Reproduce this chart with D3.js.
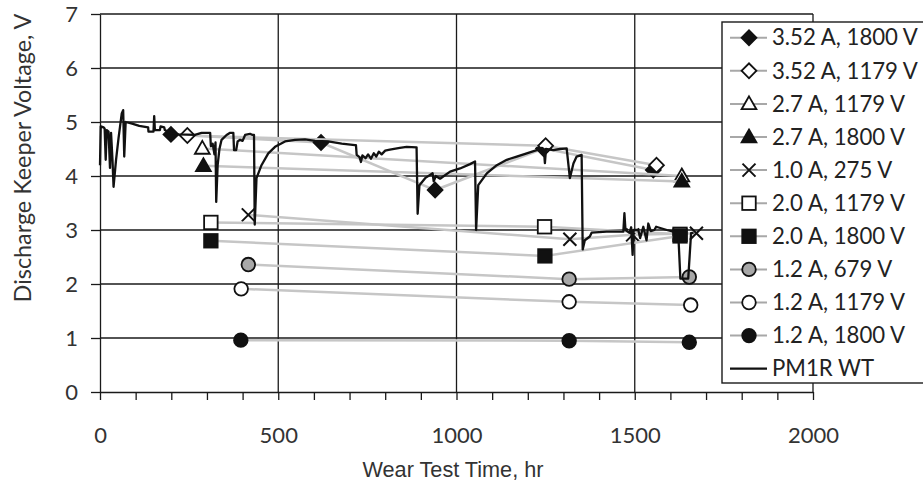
<!DOCTYPE html>
<html><head><meta charset="utf-8">
<script src="https://cdn.jsdelivr.net/npm/d3@7"></script>
<style>html,body{margin:0;padding:0;background:#fff;}</style>
</head><body>
<svg id="chart" width="923" height="488"></svg>
<script>
// ---------- data ----------
const yTicks = [0,1,2,3,4,5,6,7];
const xTicks = [0,500,1000,1500,2000];
const seriesNames = ["3.52 A, 1800 V","3.52 A, 1179 V","2.7 A, 1179 V","2.7 A, 1800 V","1.0 A, 275 V",
  "2.0 A, 1179 V","2.0 A, 1800 V","1.2 A, 679 V","1.2 A, 1179 V","1.2 A, 1800 V","PM1R WT"];
const s352_1800 = [[199,4.77],[620,4.62],[940,3.74],[1244,4.51],[1552,4.11]];
const s352_1179 = [[245,4.75],[1250,4.56],[1561,4.2]];
const s27_1179 = [[287,4.51],[1632,4.0]];
const s27_1800 = [[290,4.19],[1632,3.9]];
const s10_275 = [[416,3.28],[1318,2.83],[1494,2.91],[1673,2.94]];
const s20_1179 = [[311,3.14],[1247,3.06],[1627,2.92]];
const s20_1800 = [[311,2.80],[1248,2.52],[1627,2.89]];
const s12_679 = [[416,2.36],[1316,2.09],[1653,2.13]];
const s12_1179 = [[396,1.91],[1316,1.67],[1657,1.61]];
const s12_1800 = [[395,0.96],[1316,0.95],[1653,0.92]];
const pm1rWT = [
[0,4.2],[2,4.92],[10,4.9],[13,4.88],[16,4.3],[19,4.85],[24,4.82],[28,4.15],[31,4.8],[35,4.3],[38,3.8],
[45,4.3],[52,4.7],[61,5.16],[65,5.22],[68,4.36],[72,5.0],[90,4.97],[110,4.93],[135,4.9],[136,4.82],
[150,4.82],[152,5.11],[154,4.85],[168,4.85],[170,4.92],[180,4.9],[182,4.85],[196,4.8],[220,4.77],
[266,4.76],[285,4.8],[305,4.8],[309,4.8],[311,4.55],[316,4.6],[321,4.4],[324,4.62],[326,3.52],[330,4.2],
[335,4.5],[341,4.67],[355,4.76],[365,4.8],[374,4.8],[376,4.48],[382,4.48],[386,4.64],[393,4.67],
[400,4.65],[407,4.76],[421,4.78],[428,4.76],[432,4.76],[434,3.1],[439,3.96],[453,4.2],[472,4.42],
[491,4.54],[519,4.64],[547,4.67],[575,4.68],[603,4.65],[640,4.64],[678,4.6],[715,4.57],[718,4.57],
[720,4.39],[728,4.35],[732,4.26],[736,4.38],[745,4.33],[752,4.4],[760,4.32],[768,4.42],[775,4.36],
[782,4.45],[790,4.4],[800,4.47],[813,4.49],[841,4.52],[860,4.54],[888,4.53],[891,3.3],[896,3.83],
[912,3.96],[933,4.05],[936,3.9],[942,4.0],[954,3.95],[982,4.08],[1010,4.14],[1038,4.22],[1052,4.27],
[1055,3.0],[1061,3.83],[1085,4.05],[1113,4.2],[1141,4.3],[1169,4.36],[1197,4.42],[1225,4.48],
[1240,4.52],[1245,4.5],[1248,4.24],[1251,4.5],[1272,4.48],[1290,4.5],[1309,4.51],[1318,3.96],
[1328,4.23],[1337,4.36],[1351,4.39],[1354,2.64],[1360,2.81],[1374,2.88],[1379,2.95],[1421,2.97],
[1468,2.97],[1471,3.31],[1474,3.0],[1485,2.95],[1490,3.05],[1494,2.54],[1497,3.0],[1510,3.0],
[1515,2.85],[1524,3.06],[1533,2.81],[1538,3.12],[1545,2.98],[1555,3.0],[1560,3.06],[1590,3.0],
[1608,2.97],[1622,2.94],[1628,2.1],[1650,2.1],[1658,2.94],[1665,2.95]
];
const seriesData = [s352_1800,s352_1179,s27_1179,s27_1800,s10_275,s20_1179,s20_1800,s12_679,s12_1179,s12_1800];
const seriesMarkers = ["diamondFilled","diamondOpen","triangleOpen","triangleFilled","cross",
  "squareOpen","squareFilled","circleGrey","circleOpen","circleFilled"];

// ---------- chart ----------
const svg = d3.select("#chart");
const x = d3.scaleLinear().domain([0,2000]).range([100,813]);
const y = d3.scaleLinear().domain([0,7]).range([392,14]);
const INK = "#1a1a1a";
const TXT = "#333";
const calibriLike = "Lato, 'Open Sans', sans-serif";

// gridlines
svg.append("g").selectAll("line").data(yTicks.filter(d=>d>0)).join("line")
  .attr("x1",x(0)).attr("x2",x(2000)).attr("y1",d=>y(d)).attr("y2",d=>y(d))
  .attr("stroke",INK).attr("stroke-width",1.3);
svg.append("g").selectAll("line").data(xTicks.filter(d=>d>0)).join("line")
  .attr("y1",y(0)).attr("y2",y(7)).attr("x1",d=>x(d)).attr("x2",d=>x(d))
  .attr("stroke",INK).attr("stroke-width",1.3);

// axes
const yAxis = svg.append("g").attr("transform",`translate(${x(0)},0)`)
  .call(d3.axisLeft(y).tickValues(yTicks).tickSize(9).tickSizeOuter(0).tickPadding(13).tickFormat(d3.format("d")));
const xAxis = svg.append("g").attr("transform",`translate(0,${y(0)})`)
  .call(d3.axisBottom(x).tickValues(d3.range(0,2001,100)).tickSize(8).tickSizeOuter(0).tickPadding(27)
    .tickFormat(d=> d%500===0 ? d3.format("d")(d) : ""));
[yAxis,xAxis].forEach(a=>{
  a.select(".domain").attr("stroke",INK).attr("stroke-width",1.3);
  a.selectAll(".tick line").attr("stroke",INK).attr("stroke-width",1.3);
  a.selectAll(".tick text").attr("fill",TXT).attr("font-family",calibriLike).attr("font-size",22);
});

// marker drawing
function marker(g, type, cx, cy, scale=1){
  const s = scale;
  if(type.startsWith("diamond")){
    g.append("path").attr("d", d3.symbol(d3.symbolSquare, 110*s*s)())
      .attr("transform",`translate(${cx},${cy}) rotate(45)`)
      .attr("fill", type==="diamondFilled"?"#111":"#fff").attr("stroke","#111").attr("stroke-width",1.8);
  } else if(type.startsWith("triangle")){
    g.append("path").attr("d", d3.symbol(d3.symbolTriangle, 95*s*s)())
      .attr("transform",`translate(${cx},${cy+1})`)
      .attr("fill", type==="triangleFilled"?"#111":"#fff").attr("stroke","#111").attr("stroke-width",1.8);
  } else if(type==="cross"){
    const r=6.5*s;
    g.append("path").attr("d",`M${cx-r},${cy-r}L${cx+r},${cy+r}M${cx-r},${cy+r}L${cx+r},${cy-r}`)
      .attr("stroke","#111").attr("stroke-width",2).attr("fill","none");
  } else if(type.startsWith("square")){
    const a=13.5*s;
    g.append("rect").attr("x",cx-a/2).attr("y",cy-a/2).attr("width",a).attr("height",a)
      .attr("fill", type==="squareFilled"?"#111":"#fff").attr("stroke","#111").attr("stroke-width",1.8);
  } else if(type.startsWith("circle")){
    const fill = type==="circleFilled"?"#111":(type==="circleGrey"?"#a8a8a8":"#fff");
    g.append("circle").attr("cx",cx).attr("cy",cy).attr("r",6.8*s)
      .attr("fill",fill).attr("stroke","#111").attr("stroke-width",1.8);
  }
}

const line = d3.line().x(d=>x(d[0])).y(d=>y(d[1]));
const plotG = svg.append("g");
seriesData.forEach((data,i)=>{
  const g = plotG.append("g");
  g.append("path").attr("d",line(data)).attr("fill","none").attr("stroke","#c6c6c6").attr("stroke-width",2.5);
  data.forEach(d=>marker(g, seriesMarkers[i], x(d[0]), y(d[1])));
});
plotG.append("path").attr("d",line(pm1rWT)).attr("fill","none").attr("stroke","#111")
  .attr("stroke-width",2.3).attr("stroke-linejoin","round");

// axis titles
function fit(sel,target){
  const len = sel.node().getComputedTextLength();
  const fs = parseFloat(sel.attr("font-size"));
  sel.attr("font-size", fs*target/len);
}
const yt = svg.append("text").attr("transform","translate(31,158) rotate(-90)")
  .attr("text-anchor","middle").attr("fill",TXT).attr("font-family",calibriLike).attr("font-size",22)
  .text("Discharge Keeper Voltage, V");
fit(yt,289);
const xt = svg.append("text").attr("x",453).attr("y",477).attr("text-anchor","middle")
  .attr("fill",TXT).attr("font-family","'Liberation Sans', Arial, sans-serif").attr("font-size",20)
  .text("Wear Test Time, hr");
fit(xt,181);

// legend
const lg = svg.append("g");
lg.append("rect").attr("x",722).attr("y",22).attr("width",215).attr("height",361)
  .attr("fill","#fff").attr("stroke",INK).attr("stroke-width",1.4);
const legendTexts = [];
seriesNames.forEach((name,i)=>{
  const cy = 37.7 + 33.1*i;
  const isLine = i===seriesNames.length-1;
  lg.append("line").attr("x1",730).attr("x2",767).attr("y1",cy).attr("y2",cy)
    .attr("stroke", isLine?"#111":"#a8a8a8").attr("stroke-width", isLine?2.3:2);
  if(!isLine) marker(lg, seriesMarkers[i], 749, cy);
  legendTexts.push(lg.append("text").attr("x",772).attr("y",cy).attr("dy","0.35em")
    .attr("fill","#222").attr("font-family",calibriLike).attr("font-size",22).text(name));
});
const l0 = legendTexts[0].node().getComputedTextLength();
const lfs = 22*146/l0;
legendTexts.forEach(t=>t.attr("font-size",lfs));
</script>
</body></html>
